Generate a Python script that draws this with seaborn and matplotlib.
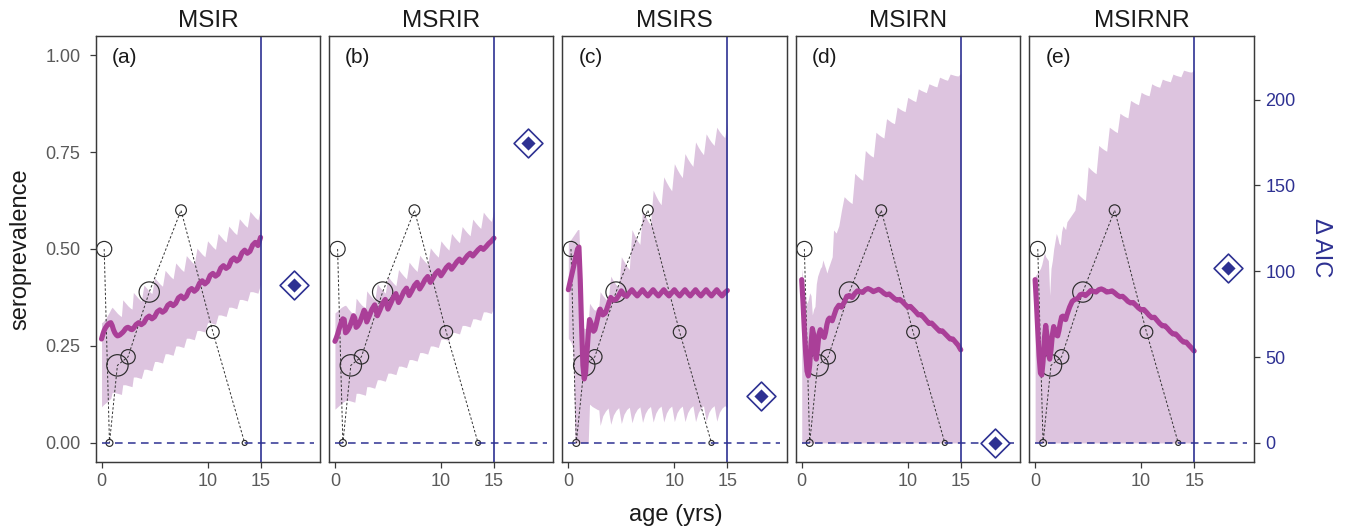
import numpy as np
import matplotlib
matplotlib.use("Agg")
import matplotlib.pyplot as plt
import seaborn as sns

# ---------------------------------------------------------------- data
models = ["MSIR", "MSRIR", "MSIRS", "MSIRN", "MSIRNR"]
panel_tags = ["(a)", "(b)", "(c)", "(d)", "(e)"]

# observed seroprevalence by age class, with sample size per class
obs_age = [0.25, 0.75, 1.5, 2.5, 4.5, 7.5, 10.5, 13.5]
obs_prev = [0.50, 0.0, 0.20, 0.222, 0.389, 0.60, 0.286, 0.0]
obs_n = [10, 2, 20, 9, 18, 5, 7, 1]

# AIC difference of each model relative to the best one
delta_aic = [92.2, 175.0, 27.1, 0.0, 101.9]

# age grid of the model output (1/8 yr up to age 3, then 1/4 yr)
age = np.concatenate([np.arange(0, 3, 0.125), np.arange(3, 15.001, 0.25)])

# --- MSIR
mean_msir = [
    0.268, 0.28, 0.29, 0.297, 0.302, 0.306, 0.309, 0.31,
    0.303, 0.292, 0.284, 0.279, 0.276, 0.277, 0.279, 0.282,
    0.285, 0.289, 0.294, 0.297, 0.298, 0.296, 0.293, 0.292,
    0.295, 0.305, 0.31, 0.305,
    0.31, 0.322, 0.327, 0.32,
    0.325, 0.338, 0.343, 0.337,
    0.342, 0.355, 0.36, 0.354,
    0.36, 0.374, 0.379, 0.372,
    0.378, 0.393, 0.398, 0.391,
    0.397, 0.412, 0.418, 0.41,
    0.416, 0.432, 0.437, 0.43,
    0.435, 0.451, 0.457, 0.45,
    0.455, 0.471, 0.477, 0.469,
    0.474, 0.49, 0.497, 0.489,
    0.494, 0.51, 0.517, 0.509,
    0.53]
hi_msir = [
    0.31, 0.312, 0.316, 0.32, 0.326, 0.332, 0.338, 0.345,
    0.35, 0.346, 0.342, 0.338, 0.334, 0.331, 0.328, 0.326,
    0.369, 0.365, 0.361, 0.357, 0.353, 0.35, 0.347, 0.345,
    0.388, 0.38, 0.372, 0.366,
    0.407, 0.399, 0.391, 0.385,
    0.426, 0.418, 0.41, 0.404,
    0.445, 0.437, 0.429, 0.423,
    0.464, 0.456, 0.448, 0.442,
    0.483, 0.475, 0.467, 0.461,
    0.502, 0.494, 0.486, 0.48,
    0.521, 0.513, 0.505, 0.499,
    0.54, 0.532, 0.524, 0.518,
    0.559, 0.551, 0.543, 0.537,
    0.578, 0.57, 0.562, 0.556,
    0.597, 0.589, 0.581, 0.575,
    0.605]
lo_msir = [
    0.093, 0.097, 0.10, 0.103, 0.106, 0.109, 0.112, 0.115,
    0.13, 0.13, 0.13, 0.129, 0.128, 0.127, 0.126, 0.125,
    0.15, 0.15, 0.15, 0.149, 0.148, 0.147, 0.146, 0.145,
    0.17, 0.17, 0.168, 0.166,
    0.19, 0.19, 0.188, 0.186,
    0.21, 0.21, 0.208, 0.206,
    0.23, 0.23, 0.228, 0.226,
    0.25, 0.25, 0.248, 0.246,
    0.27, 0.27, 0.268, 0.266,
    0.29, 0.29, 0.288, 0.286,
    0.31, 0.31, 0.308, 0.306,
    0.33, 0.33, 0.328, 0.326,
    0.35, 0.35, 0.348, 0.346,
    0.37, 0.37, 0.368, 0.366,
    0.39, 0.39, 0.388, 0.386,
    0.41]

# --- MSRIR
mean_msrir = [
    0.262, 0.27, 0.28, 0.292, 0.303, 0.313, 0.32, 0.318,
    0.284, 0.287, 0.292, 0.299, 0.308, 0.318, 0.328, 0.322,
    0.298, 0.301, 0.306, 0.313, 0.322, 0.332, 0.342, 0.336,
    0.312, 0.328, 0.345, 0.356,
    0.328, 0.343, 0.36, 0.37,
    0.345, 0.359, 0.375, 0.385,
    0.362, 0.375, 0.39, 0.399,
    0.38, 0.392, 0.406, 0.414,
    0.397, 0.408, 0.421, 0.429,
    0.414, 0.425, 0.437, 0.444,
    0.431, 0.441, 0.452, 0.459,
    0.448, 0.457, 0.467, 0.474,
    0.465, 0.474, 0.483, 0.489,
    0.482, 0.49, 0.498, 0.504,
    0.499, 0.506, 0.514, 0.52,
    0.528]
hi_msrir = [
    0.335, 0.338, 0.341, 0.344, 0.347, 0.35, 0.352, 0.354,
    0.355, 0.351, 0.346, 0.342, 0.338, 0.335, 0.333, 0.331,
    0.373, 0.369, 0.364, 0.36, 0.356, 0.353, 0.351, 0.349,
    0.392, 0.383, 0.375, 0.368,
    0.41, 0.401, 0.393, 0.386,
    0.429, 0.42, 0.412, 0.405,
    0.447, 0.438, 0.43, 0.423,
    0.466, 0.457, 0.449, 0.442,
    0.484, 0.475, 0.467, 0.46,
    0.503, 0.494, 0.486, 0.479,
    0.521, 0.512, 0.504, 0.497,
    0.54, 0.531, 0.523, 0.516,
    0.558, 0.549, 0.541, 0.534,
    0.577, 0.568, 0.56, 0.553,
    0.595, 0.586, 0.578, 0.571,
    0.60]
lo_msrir = [
    0.087, 0.09, 0.093, 0.096, 0.099, 0.102, 0.105, 0.107,
    0.11, 0.11, 0.11, 0.109, 0.108, 0.107, 0.106, 0.105,
    0.128, 0.128, 0.128, 0.127, 0.126, 0.125, 0.124, 0.123,
    0.145, 0.145, 0.143, 0.141,
    0.163, 0.163, 0.161, 0.159,
    0.18, 0.18, 0.178, 0.176,
    0.198, 0.198, 0.196, 0.194,
    0.215, 0.215, 0.213, 0.211,
    0.233, 0.233, 0.231, 0.229,
    0.25, 0.25, 0.248, 0.246,
    0.268, 0.268, 0.266, 0.264,
    0.285, 0.285, 0.283, 0.281,
    0.303, 0.303, 0.301, 0.299,
    0.32, 0.32, 0.318, 0.316,
    0.338, 0.338, 0.336, 0.334,
    0.35]

# --- MSIRS
mean_msirs = [
    0.395, 0.41, 0.425, 0.44, 0.455, 0.47, 0.485, 0.50,
    0.505, 0.42, 0.30, 0.20, 0.165, 0.18, 0.23, 0.28,
    0.318, 0.31, 0.295, 0.288, 0.292, 0.305, 0.32, 0.335,
    0.345, 0.33, 0.335, 0.355,
    0.375, 0.368, 0.37, 0.38,
    0.392, 0.382, 0.378, 0.387,
    0.395, 0.386, 0.379, 0.387,
    0.395, 0.386, 0.379, 0.387,
    0.395, 0.386, 0.379, 0.387,
    0.395, 0.386, 0.379, 0.387,
    0.395, 0.386, 0.379, 0.387,
    0.395, 0.386, 0.379, 0.387,
    0.395, 0.386, 0.379, 0.387,
    0.395, 0.386, 0.379, 0.387,
    0.395, 0.386, 0.379, 0.387,
    0.393]
hi_msirs = [
    0.515, 0.52, 0.525, 0.53, 0.535, 0.54, 0.545, 0.55,
    0.55, 0.45, 0.32, 0.30, 0.295, 0.295, 0.30, 0.31,
    0.36, 0.355, 0.35, 0.345, 0.342, 0.345, 0.35, 0.352,
    0.39, 0.38, 0.372, 0.366,
    0.43, 0.418, 0.408, 0.40,
    0.48, 0.468, 0.456, 0.447,
    0.55, 0.535, 0.522, 0.512,
    0.60, 0.585, 0.572, 0.562,
    0.652, 0.637, 0.624, 0.614,
    0.686, 0.672, 0.66, 0.65,
    0.72, 0.706, 0.694, 0.684,
    0.746, 0.733, 0.722, 0.713,
    0.776, 0.763, 0.752, 0.743,
    0.797, 0.785, 0.775, 0.767,
    0.814, 0.803, 0.794, 0.787,
    0.827]
lo_msirs = [
    0.27, 0.265, 0.26, 0.25, 0.20, 0.0, 0.0, 0.0,
    0.0, 0.0, 0.0, 0.0, 0.0, 0.0, 0.0, 0.0,
    0.10, 0.097, 0.094, 0.092, 0.09, 0.088, 0.086, 0.085,
    0.045, 0.07, 0.082, 0.09,
    0.048, 0.072, 0.084, 0.091,
    0.05, 0.074, 0.086, 0.092,
    0.052, 0.075, 0.087, 0.093,
    0.053, 0.076, 0.088, 0.094,
    0.054, 0.077, 0.089, 0.095,
    0.054, 0.077, 0.089, 0.095,
    0.055, 0.078, 0.089, 0.095,
    0.055, 0.078, 0.09, 0.096,
    0.055, 0.078, 0.09, 0.096,
    0.056, 0.079, 0.09, 0.096,
    0.056, 0.079, 0.09, 0.096,
    0.09]

# --- MSIRN
mean_msirn = [
    0.421, 0.36, 0.29, 0.23, 0.185, 0.173, 0.20, 0.255,
    0.295, 0.28, 0.235, 0.216, 0.245, 0.28, 0.292, 0.285,
    0.275, 0.272, 0.285, 0.305, 0.318, 0.322, 0.318, 0.315,
    0.325, 0.345, 0.355, 0.35,
    0.362, 0.378, 0.38, 0.375,
    0.385, 0.392, 0.39, 0.388,
    0.395, 0.398, 0.395, 0.39,
    0.393, 0.396, 0.392, 0.386,
    0.382, 0.384, 0.378, 0.372,
    0.368, 0.37, 0.364, 0.357,
    0.35, 0.352, 0.345, 0.338,
    0.33, 0.331, 0.324, 0.316,
    0.308, 0.309, 0.302, 0.295,
    0.288, 0.289, 0.282, 0.275,
    0.268, 0.268, 0.26, 0.252,
    0.24]
hi_msirn = [
    0.45, 0.42, 0.39, 0.37, 0.36, 0.37, 0.387, 0.38,
    0.33, 0.345, 0.352, 0.41, 0.43, 0.44, 0.45, 0.455,
    0.472, 0.46, 0.45, 0.438, 0.45, 0.46, 0.47, 0.48,
    0.549, 0.541, 0.56, 0.60,
    0.635, 0.628, 0.622, 0.617,
    0.695, 0.688, 0.682, 0.677,
    0.754, 0.747, 0.741, 0.737,
    0.801, 0.795, 0.79, 0.786,
    0.836, 0.831, 0.826, 0.823,
    0.866, 0.861, 0.857, 0.854,
    0.891, 0.887, 0.883, 0.88,
    0.913, 0.909, 0.906, 0.903,
    0.926, 0.923, 0.92, 0.918,
    0.943, 0.94, 0.937, 0.935,
    0.951, 0.949, 0.947, 0.946,
    0.953]
lo_msirn = [
    0.0, 0.0, 0.0, 0.0, 0.0, 0.0, 0.0, 0.0,
    0.0, 0.0, 0.0, 0.0, 0.0, 0.0, 0.0, 0.0,
    0.0, 0.0, 0.0, 0.0, 0.0, 0.0, 0.0, 0.0,
    0.0, 0.0, 0.0, 0.0, 0.0, 0.0, 0.0, 0.0,
    0.0, 0.0, 0.0, 0.0, 0.0, 0.0, 0.0, 0.0,
    0.0, 0.0, 0.0, 0.0, 0.0, 0.0, 0.0, 0.0,
    0.0, 0.0, 0.0, 0.0, 0.0, 0.0, 0.0, 0.0,
    0.0, 0.0, 0.0, 0.0, 0.0, 0.0, 0.0, 0.0,
    0.0, 0.0, 0.0, 0.0, 0.0, 0.0, 0.0, 0.0,
    0.0]

# --- MSIRNR
mean_msirnr = [
    0.421, 0.36, 0.29, 0.225, 0.18, 0.175, 0.21, 0.27,
    0.303, 0.275, 0.23, 0.216, 0.24, 0.278, 0.30, 0.29,
    0.278, 0.276, 0.29, 0.31, 0.325, 0.327, 0.32, 0.318,
    0.33, 0.35, 0.365, 0.37,
    0.372, 0.382, 0.384, 0.38,
    0.386, 0.393, 0.391, 0.389,
    0.395, 0.397, 0.394, 0.389,
    0.39, 0.392, 0.387, 0.381,
    0.377, 0.378, 0.372, 0.365,
    0.361, 0.362, 0.355, 0.348,
    0.343, 0.344, 0.337, 0.329,
    0.323, 0.324, 0.316, 0.308,
    0.302, 0.302, 0.295, 0.287,
    0.281, 0.281, 0.274, 0.266,
    0.26, 0.26, 0.252, 0.245,
    0.237]
hi_msirnr = [
    0.43, 0.435, 0.44, 0.445, 0.45, 0.46, 0.475, 0.49,
    0.48, 0.475, 0.47, 0.38, 0.45, 0.47, 0.50, 0.52,
    0.54, 0.53, 0.515, 0.51, 0.545, 0.56, 0.555, 0.55,
    0.57, 0.58, 0.59, 0.60,
    0.643, 0.636, 0.63, 0.625,
    0.712, 0.705, 0.699, 0.694,
    0.767, 0.761, 0.756, 0.752,
    0.814, 0.809, 0.804, 0.80,
    0.85, 0.845, 0.841, 0.838,
    0.883, 0.879, 0.875, 0.872,
    0.904, 0.90, 0.897, 0.895,
    0.926, 0.922, 0.919, 0.917,
    0.938, 0.935, 0.933, 0.931,
    0.951, 0.948, 0.946, 0.944,
    0.961, 0.959, 0.957, 0.956,
    0.962]
lo_msirnr = list(lo_msirn)

fit_mean = [mean_msir, mean_msrir, mean_msirs, mean_msirn, mean_msirnr]
fit_hi = [hi_msir, hi_msrir, hi_msirs, hi_msirn, hi_msirnr]
fit_lo = [lo_msir, lo_msrir, lo_msirs, lo_msirn, lo_msirnr]

# ---------------------------------------------------------------- style
sns.set_style("ticks")
plt.rcParams["font.family"] = ["Liberation Sans", "DejaVu Sans"]

NAVY = "#2E3192"
BAND = "#DDC4DF"
LINE = "#AA3F98"
FRAME = "#3a3a3a"
TICKTXT = "#5a5a5a"

AIC_PER_UNIT = 226.0          # scale of the secondary (delta AIC) axis
YLIM = (-0.05, 1.05)
XLIM = (-0.55, 20.6)
AIC_X = 18.2

fig = plt.figure(figsize=(13.46, 5.30), dpi=100)
left0, step, width = 0.0711, 0.1734, 0.1666
bottom, height = 0.1277, 0.805

for i, name in enumerate(models):
    ax = fig.add_axes([left0 + i * step, bottom, width, height])
    ax.set_xlim(*XLIM)
    ax.set_ylim(*YLIM)

    ax.fill_between(age, fit_lo[i], fit_hi[i], color=BAND, lw=0, zorder=1)

    sns.lineplot(x=obs_age, y=obs_prev, ax=ax, color="#333333", lw=0.7,
                 linestyle=(0, (2.5, 2.0)), estimator=None, sort=False,
                 legend=False, zorder=2)
    sns.scatterplot(x=obs_age, y=obs_prev, size=obs_n, sizes=(13, 237),
                    size_norm=(1, 20), ax=ax, legend=False, zorder=3)
    pts = ax.collections[-1]
    pts.set_facecolor("none")
    pts.set_edgecolor("#2b2b2b")
    pts.set_linewidth(0.85)

    sns.lineplot(x=age, y=fit_mean[i], ax=ax, color=LINE, lw=3.7,
                 estimator=None, sort=False, legend=False, zorder=4)

    ax.axvline(15, color=NAVY, lw=1.2, zorder=5)

    ax.text(0.97, 0.994, panel_tags[i], ha="left", va="center",
            fontsize=15, color="#1a1a1a")
    ax.set_title(name, fontsize=17.5, color="#1a1a1a", pad=6.3)

    ax.set_xticks([0, 10, 15])
    ax.set_yticks([0, 0.25, 0.5, 0.75, 1.0])
    ax.set_yticklabels(["0.00", "0.25", "0.50", "0.75", "1.00"])
    ax.set_xlabel("")
    ax.set_ylabel("")
    for sp in ax.spines.values():
        sp.set_color(FRAME)
        sp.set_linewidth(0.9)

    # secondary axis: delta AIC of the model
    ax2 = ax.twinx()
    ax2.set_ylim(YLIM[0] * AIC_PER_UNIT, YLIM[1] * AIC_PER_UNIT)
    ax2.set_xlim(*XLIM)
    ax2.hlines(0, 0, 20, colors=NAVY, lw=1.1, linestyles=(0, (5, 3.5)),
               zorder=3)
    sns.scatterplot(x=[AIC_X], y=[delta_aic[i]], ax=ax2, marker="D", s=215,
                    color="white", edgecolor=NAVY, linewidth=1.2,
                    legend=False, zorder=6)
    sns.scatterplot(x=[AIC_X], y=[delta_aic[i]], ax=ax2, marker="D", s=52,
                    color=NAVY, linewidth=0, legend=False, zorder=7)
    ax2.set_yticks([0, 50, 100, 150, 200])
    for sp in ax2.spines.values():
        sp.set_color(FRAME)
        sp.set_linewidth(0.9)

    # tick styling (after twinx, which resets the tick sides)
    ax.tick_params(axis="x", length=4, width=0.9, color=FRAME, pad=4,
                   labelsize=13, labelcolor=TICKTXT)
    ax.tick_params(axis="y", length=4, width=0.9, color=FRAME, pad=7,
                   labelsize=13, labelcolor=TICKTXT, right=False,
                   labelright=False, left=(i == 0), labelleft=(i == 0))
    last = i == len(models) - 1
    ax2.tick_params(axis="y", length=4, width=0.9, color=FRAME, pad=4.5,
                    labelsize=13, labelcolor=NAVY, left=False,
                    labelleft=False, right=last, labelright=last)

fig.text(20 / 1346, 1 - 249 / 530, "seroprevalence", rotation=90,
         ha="center", va="center", fontsize=17, color="#1a1a1a")
fig.text(676 / 1346, 1 - 515 / 530, "age (yrs)", ha="center", va="center",
         fontsize=17, color="#1a1a1a")
fig.text(1321 / 1346, 1 - 248 / 530, "\u0394 AIC", rotation=270,
         ha="center", va="center", fontsize=17, color=NAVY)

fig.savefig("out.png", dpi=100)
